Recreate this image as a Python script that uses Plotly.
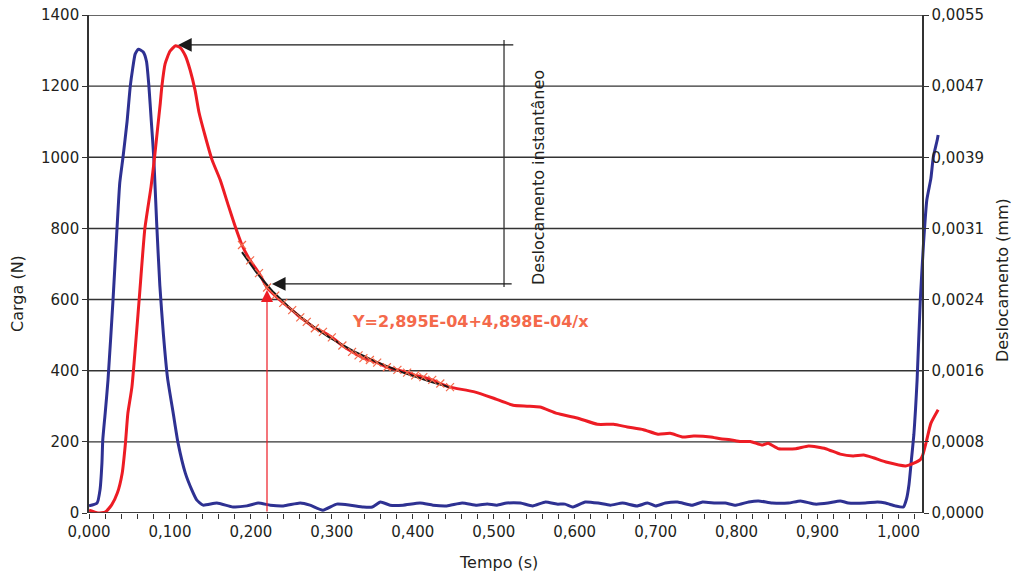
import numpy as np
import plotly.graph_objects as go

# ---------------- data ----------------
# Carga (N) - blue series, left axis
t_carga = [0.000, 0.010, 0.0136, 0.016, 0.017, 0.020, 0.0235, 0.0297, 0.0346, 0.038, 0.042,
           0.047, 0.051, 0.054, 0.057, 0.061, 0.067, 0.071, 0.074, 0.077, 0.080, 0.0835,
           0.0875, 0.092, 0.097, 0.104, 0.110, 0.119, 0.127, 0.133, 0.141, 0.158, 0.178,
           0.195, 0.209, 0.224, 0.240, 0.261, 0.273, 0.289, 0.306, 0.323, 0.339, 0.350,
           0.360, 0.372, 0.388, 0.409, 0.425, 0.442, 0.461, 0.479, 0.492, 0.504, 0.516,
           0.533, 0.548, 0.564, 0.578, 0.588, 0.598, 0.613, 0.629, 0.644, 0.659, 0.677,
           0.690, 0.700, 0.712, 0.727, 0.745, 0.758, 0.774, 0.786, 0.799, 0.815, 0.827,
           0.844, 0.864, 0.879, 0.897, 0.913, 0.928, 0.938, 0.959, 0.974, 0.984, 0.996,
           1.006, 1.010, 1.013, 1.016, 1.019, 1.021, 1.023, 1.027, 1.031, 1.035, 1.040,
           1.043, 1.048, 1.049]
carga = [20, 28, 65, 141, 205, 281, 374, 600, 800, 928, 1000,
         1100, 1200, 1250, 1290, 1304, 1296, 1270, 1200, 1100, 1000, 820,
         640, 500, 380, 281, 197, 112, 65, 37, 22, 28, 17,
         20, 28, 22, 20, 28, 22, 8, 25, 22, 17, 17,
         31, 22, 22, 28, 22, 20, 28, 22, 25, 22, 28,
         28, 20, 31, 25, 25, 17, 31, 28, 22, 28, 20,
         28, 20, 28, 31, 22, 31, 28, 28, 22, 31, 34,
         28, 28, 34, 25, 28, 34, 28, 28, 31, 28, 20,
         17, 40, 80, 150, 220, 290, 374, 600, 760, 880, 940,
         1000, 1050, 1063]

# Deslocamento (mm) - red series, right axis
t_desl = [0.000, 0.011, 0.020, 0.028, 0.035, 0.041, 0.045, 0.048, 0.053, 0.062, 0.069,
          0.0766, 0.081, 0.085, 0.088, 0.090, 0.094, 0.100, 0.107, 0.1125, 0.119, 0.125,
          0.131, 0.136, 0.143, 0.152, 0.162, 0.172, 0.180, 0.189, 0.199, 0.210, 0.220,
          0.230, 0.240, 0.251, 0.261, 0.269, 0.279, 0.289, 0.300, 0.313, 0.325, 0.333,
          0.339, 0.347, 0.356, 0.368, 0.381, 0.393, 0.403, 0.413, 0.424, 0.434, 0.446,
          0.475, 0.499, 0.524, 0.541, 0.557, 0.578, 0.603, 0.628, 0.648, 0.665, 0.685,
          0.703, 0.718, 0.733, 0.747, 0.768, 0.780, 0.792, 0.805, 0.817, 0.832, 0.839,
          0.852, 0.873, 0.889, 0.910, 0.928, 0.944, 0.957, 0.969, 0.986, 1.009, 1.019,
          1.027, 1.030, 1.035, 1.040, 1.049]
desl = [0.00003, 0.00000, 0.00001, 0.00009, 0.00022, 0.00044, 0.00077, 0.00110, 0.00139, 0.00236, 0.00314,
        0.00360, 0.00393, 0.00427, 0.00452, 0.00471, 0.00496, 0.00510, 0.00516, 0.00514, 0.00505, 0.00489,
        0.00467, 0.00442, 0.00418, 0.00390, 0.00368, 0.00340, 0.00318, 0.00296, 0.00279, 0.00265, 0.00249,
        0.00240, 0.00232, 0.00224, 0.00216, 0.00211, 0.00204, 0.00200, 0.00194, 0.00185, 0.00178, 0.00174,
        0.00171, 0.00169, 0.00166, 0.00161, 0.00158, 0.00155, 0.00152, 0.00150, 0.00147, 0.00143, 0.00139,
        0.00134, 0.00127, 0.00119, 0.00118, 0.00117, 0.00110, 0.00105, 0.00098, 0.00098, 0.00095, 0.00092,
        0.00087, 0.00088, 0.00084, 0.00085, 0.00084, 0.00082, 0.00081, 0.00079, 0.00079, 0.00075, 0.00077,
        0.00071, 0.00071, 0.00074, 0.00071, 0.00065, 0.00063, 0.00064, 0.00061, 0.00056, 0.00052, 0.00055,
        0.00059, 0.00064, 0.00081, 0.00099, 0.00114]

# points used for the fit (crosses)
t_fit_pts = [0.189, 0.199, 0.210, 0.220, 0.230, 0.240, 0.251, 0.261, 0.269, 0.279, 0.289,
             0.300, 0.313, 0.325, 0.333, 0.339, 0.347, 0.356, 0.368, 0.381, 0.393, 0.403,
             0.413, 0.424, 0.434, 0.446]
desl_fit_pts = [0.00296, 0.00279, 0.00265, 0.00249, 0.00240, 0.00232, 0.00224, 0.00216, 0.00211,
                0.00204, 0.00200, 0.00194, 0.00185, 0.00178, 0.00174, 0.00171, 0.00169, 0.00166,
                0.00161, 0.00158, 0.00155, 0.00152, 0.00150, 0.00147, 0.00143, 0.00139]

# fitted curve  Y = a + b / x
fit_a = 2.895e-4
fit_b = 4.898e-4
fit_t_start = 0.189
fit_t_end = 0.446

# axis ticks
x_tickvals = [round(0.02 * i, 2) for i in range(52)]
x_ticktext = [("%.3f" % v).replace(".", ",") if round(v * 10, 6) == round(v * 10) else "" for v in x_tickvals]
y_tickvals = [0, 200, 400, 600, 800, 1000, 1200, 1400]
y2_max = 0.0055
y2_tickvals = [y2_max * k / 7 for k in range(8)]
y2_ticktext = ["0,0000", "0,0008", "0,0016", "0,0024", "0,0031", "0,0039", "0,0047", "0,0055"]

# ---------------- figure ----------------
X_MAX = 1.055
X_AXIS_END = 1.03
BLUE = "#2E3192"
RED = "#ED1C24"
SALMON = "#F4694B"
INK = "#231F20"
FONT = "DejaVu Sans"

fit_t = np.linspace(fit_t_start, fit_t_end, 80)
fit_y = fit_a + fit_b / fit_t

fig = go.Figure()
fig.add_trace(go.Scatter(x=t_carga, y=carga, mode="lines", name="Carga",
                         line=dict(color=BLUE, width=3, shape="spline", smoothing=0.5), yaxis="y"))
fig.add_trace(go.Scatter(x=t_desl, y=desl, mode="lines", name="Deslocamento",
                         line=dict(color=RED, width=3, shape="spline", smoothing=0.5), yaxis="y2"))
fig.add_trace(go.Scatter(x=fit_t, y=fit_y, mode="lines", name="Ajuste",
                         line=dict(color="#1a1a1a", width=2), yaxis="y2"))
fig.add_trace(go.Scatter(x=t_fit_pts, y=desl_fit_pts, mode="markers", name="Pontos",
                         marker=dict(symbol="x-thin-open", size=8, color=SALMON,
                                     line=dict(color=SALMON, width=1.2)), yaxis="y2"))

shapes = []
# horizontal grid lines ending at the right axis
for v in y_tickvals:
    shapes.append(dict(type="line", xref="x", yref="y", x0=0, x1=X_AXIS_END, y0=v, y1=v,
                       line=dict(color="#333333", width=1.4), layer="below"))
# vertical bracket line of "Deslocamento instantâneo"
shapes.append(dict(type="line", xref="x", yref="y", x0=0.5127, x1=0.5127, y0=635, y1=1330,
                   line=dict(color="#333333", width=1.3)))
# x axis baseline (ends at the right axis)
shapes.append(dict(type="line", xref="x", yref="y", x0=0, x1=X_AXIS_END, y0=0, y1=0,
                   line=dict(color="#333333", width=1.6)))

annotations = [
    # axis titles
    dict(text="Carga (N)", xref="paper", yref="paper", x=-0.0831, y=0.44, textangle=-90,
         xanchor="center", yanchor="middle",
         showarrow=False, font=dict(family=FONT, size=16, color=INK)),
    dict(text="Deslocamento (mm)", xref="paper", yref="paper", x=1.0703, y=0.468, textangle=-90,
         xanchor="center", yanchor="middle",
         showarrow=False, font=dict(family=FONT, size=16, color=INK)),
    dict(text="Tempo (s)", xref="paper", yref="paper", x=0.479, y=-0.1004,
         xanchor="center", yanchor="middle",
         showarrow=False, font=dict(family=FONT, size=16, color=INK)),
    # labels
    dict(text="Deslocamento instantâneo", xref="x", yref="y", x=0.556, y=942, textangle=-90,
         xanchor="center", yanchor="middle",
         showarrow=False, font=dict(family=FONT, size=16, color=INK)),
    dict(text="<b>Y=2,895E-04+4,898E-04/x</b>", xref="x", yref="y", x=0.322, y=537,
         xanchor="left", yanchor="middle", showarrow=False,
         font=dict(family=FONT, size=16, color=SALMON)),
    # arrows
    dict(text="", xref="x", yref="y", x=0.110, y=1316, axref="x", ayref="y", ax=0.526, ay=1316,
         showarrow=True, arrowhead=2, arrowsize=2.1, arrowwidth=1.3, arrowcolor="#1a1a1a"),
    dict(text="", xref="x", yref="y", x=0.226, y=644, axref="x", ayref="y", ax=0.524, ay=644,
         showarrow=True, arrowhead=2, arrowsize=2.1, arrowwidth=1.3, arrowcolor="#1a1a1a"),
    dict(text="", xref="x", yref="y", x=0.2199, y=627, axref="x", ayref="y", ax=0.2199, ay=0,
         showarrow=True, arrowhead=2, arrowsize=2.0, arrowwidth=1.2, arrowcolor=RED),
]

fig.update_layout(
    width=1015, height=576,
    margin=dict(l=89, r=72, t=15, b=63, autoexpand=False),
    paper_bgcolor="white", plot_bgcolor="white",
    showlegend=False,
    font=dict(family=FONT, size=15, color=INK),
    xaxis=dict(range=[0, X_MAX], tickmode="array", tickvals=x_tickvals, ticktext=x_ticktext,
               ticks="outside", ticklen=5, tickwidth=1.2, tickcolor="#333333",
               showgrid=False, zeroline=False, showline=False, automargin=False,
               tickfont=dict(family=FONT, size=15, color=INK)),
    yaxis=dict(range=[0, 1400], tickmode="array", tickvals=y_tickvals,
               ticks="outside", ticklen=5, tickwidth=1.2, tickcolor="#333333",
               showgrid=False, zeroline=False, showline=True, linecolor="#333333", linewidth=1.6,
               automargin=False, tickfont=dict(family=FONT, size=15, color=INK)),
    yaxis2=dict(range=[0, y2_max], overlaying="y", side="right", anchor="free",
                position=X_AXIS_END / X_MAX, tickmode="array", tickvals=y2_tickvals,
                ticktext=y2_ticktext, ticks="outside", ticklen=5, tickwidth=1.2,
                tickcolor="#333333", showgrid=False, zeroline=False, showline=True,
                linecolor="#333333", linewidth=1.6, automargin=False,
                tickfont=dict(family=FONT, size=15, color=INK)),
    shapes=shapes,
    annotations=annotations,
)

fig.write_html("out.html")
